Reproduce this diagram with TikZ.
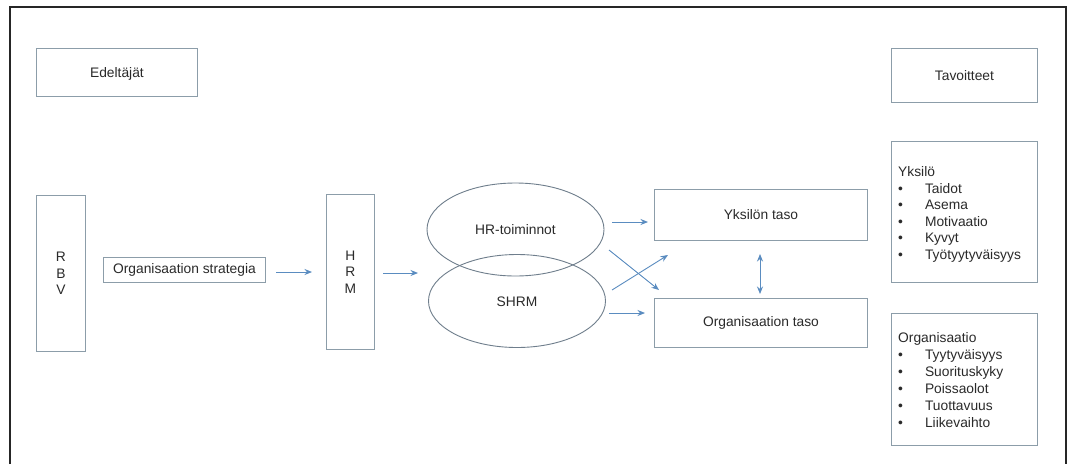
\documentclass[tikz,border=0pt]{standalone}
\usepackage{fontspec}
\setmainfont{Liberation Sans}
\usetikzlibrary{arrows.meta,shapes.geometric}
\definecolor{boxline}{HTML}{8C9DA9}
\definecolor{arrowblue}{HTML}{5A8CC0}
\definecolor{ellline}{HTML}{6F7E8C}
\definecolor{txt}{HTML}{2A2A2A}
\begin{document}
\begin{tikzpicture}[x=1pt,y=-1pt,
  every node/.style={font=\fontsize{13.8}{16.5}\selectfont, text=txt},
  box/.style={draw=boxline, line width=0.9pt, inner sep=0pt, anchor=north west},
  oval/.style={draw=ellline, line width=0.9pt, ellipse, inner sep=0pt,
               minimum width=177pt, minimum height=93pt},
  arr/.style={draw=arrowblue, line width=0.9pt, -{Stealth[length=7.5pt,width=6pt]}},
  darr/.style={draw=arrowblue, line width=0.9pt, {Stealth[length=7.5pt,width=6pt]}-{Stealth[length=7.5pt,width=6pt]}},
  listtext/.style={anchor=north west, align=left, inner sep=0pt}
]
\useasboundingbox (0,0) rectangle (1069,464);
\fill[white] (0,0) rectangle (1069,464);

% outer frame, open at the bottom
\draw[line width=2pt, color=black!85] (10,464) -- (10,7) -- (1066,7) -- (1066,464);

% headings
\node[box, minimum width=161pt, minimum height=48pt] (edel) at (36,48) {};
\node at ([yshift=-1pt]edel.center) {Edeltäjät};
\node[box, minimum width=146pt, minimum height=54pt] (tavo) at (891,48) {};
\node at (tavo.center) {Tavoitteet};

% left column
\node[box, minimum width=49pt, minimum height=156pt] (rbv) at (36,195) {};
\node[align=center, inner sep=0pt] at (rbv.center) {R\\B\\V};
\node[box, minimum width=162pt, minimum height=25pt] (strat) at (103,257) {};
\node at (strat.center) {Organisaation strategia};
\node[box, minimum width=48pt, minimum height=155pt] (hrm) at (326,194) {};
\node[align=center, inner sep=0pt] at (hrm.center) {H\\R\\M};

% HR functions
\node[oval] (hrt) at (515.5,229.5) {};
\node at (515.5,230) {HR-toiminnot};
\node[oval] (shrm) at (517,301) {};
\node at (517,302) {SHRM};

% levels
\node[box, minimum width=213pt, minimum height=51pt] (yks) at (654,189) {};
\node at (yks.center) {Yksilön taso};
\node[box, minimum width=213pt, minimum height=49pt] (org) at (654,298) {};
\node at (org.center) {Organisaation taso};

% outcome lists
\node[box, minimum width=146pt, minimum height=141pt] (yksl) at (891,141) {};
\node[listtext] (yksltxt) at (898,165) {%
  \begin{tabular}{@{}l@{\hspace{22pt}}l@{}}
  \multicolumn{2}{@{}l}{Yksilö}\\
  •&Taidot\\
  •&Asema\\
  •&Motivaatio\\
  •&Kyvyt\\
  •&Työtyytyväisyys
  \end{tabular}};
\node[box, minimum width=146pt, minimum height=132pt] (orgl) at (891,313) {};
\node[listtext] (orgltxt) at (898,330) {%
  \renewcommand{\arraystretch}{1.03}%
  \begin{tabular}{@{}l@{\hspace{22pt}}l@{}}
  \multicolumn{2}{@{}l}{Organisaatio}\\
  •&Tyytyväisyys\\
  •&Suorituskyky\\
  •&Poissaolot\\
  •&Tuottavuus\\
  •&Liikevaihto
  \end{tabular}};

% arrow end points
\coordinate (a1s) at (276,272);  \coordinate (a1e) at (312,272);
\coordinate (a2s) at (383,273);  \coordinate (a2e) at (418,273);
\coordinate (a3s) at (612,222);  \coordinate (a3e) at (648,222);
\coordinate (a4s) at (609,313);  \coordinate (a4e) at (645,313);
\coordinate (a5s) at (609,250);  \coordinate (a5e) at (659,290);
\coordinate (a6s) at (612,290);  \coordinate (a6e) at (668,255);
\coordinate (a7s) at (760,254);  \coordinate (a7e) at (760,294);

\draw[arr] (a1s) -- (a1e);
\draw[arr] (a2s) -- (a2e);
\draw[arr] (a3s) -- (a3e);
\draw[arr] (a4s) -- (a4e);
\draw[arr] (a5s) -- (a5e);
\draw[arr] (a6s) -- (a6e);
\draw[darr] (a7s) -- (a7e);
\end{tikzpicture}
\end{document}
